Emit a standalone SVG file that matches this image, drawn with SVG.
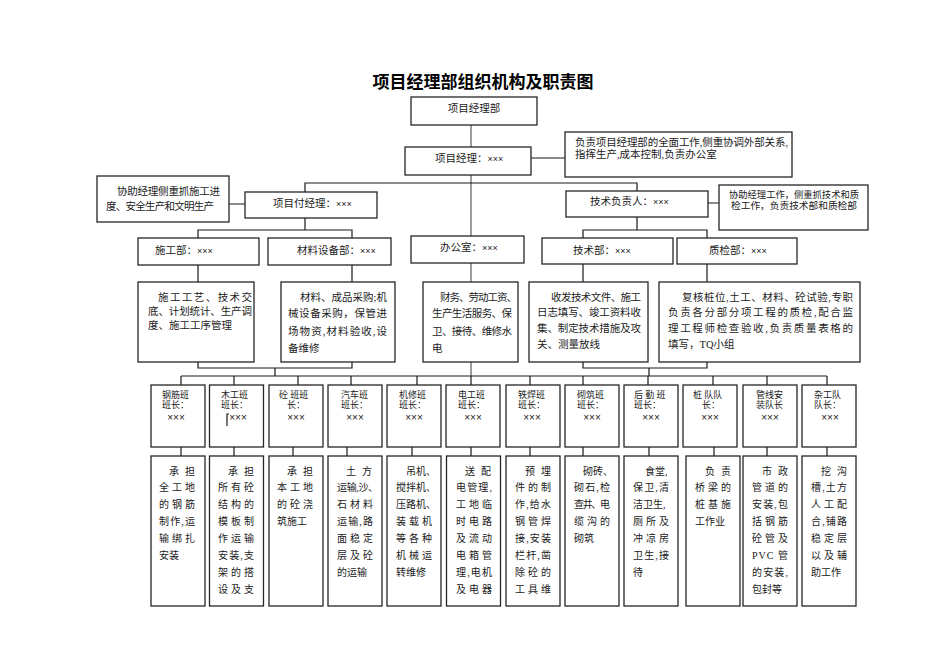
<svg xmlns="http://www.w3.org/2000/svg" width="950" height="672" viewBox="0 0 950 672">
<style>
text{font-family:"Liberation Serif","Noto Sans CJK SC",serif;fill:#1a1a1a;font-size:10.5px}
.title{font-family:"Noto Sans CJK SC",sans-serif;font-weight:bold;font-size:17px;fill:#000}
.b{fill:#fff;stroke:#262626;stroke-width:1.3}
.c{fill:none;stroke:#1a1a1a;stroke-width:1.2}
.g{fill:none;stroke:#858585;stroke-width:1.6}
.x{font-family:"Liberation Sans",sans-serif;font-size:9px}
.tx{font-family:"Liberation Sans",sans-serif;font-size:10px}
.s{font-size:9px}
.d{font-size:10px}
.r{font-size:9.6px}
</style>
<rect width="950" height="672" fill="#fff"/>
<text class="title" x="483" y="88" text-anchor="middle">项目经理部组织机构及职责图</text>

<g id="connectors">
<path class="g" d="M471,125V147M471,175V236M471,263V282M471,362V376"/>
<path class="c" d="M531,158H565M305,192V183H637V191M229,204H245M708,203H719"/>
<path class="c" d="M305,218V230M198,238V230H352V238M637,217V230M583,238V230H707V238"/>
<path class="c" d="M198,265V282M352,265V282M583,264V282M707,264V282"/>
<path class="c" d="M198,362V368H352V362M275,368V376M583,362V368H707V362M649,368V376"/>
<path class="c" d="M181,376H827"/>
<path class="c" d="M181,376V385M234,376V385M298,376V385M351,376V385M417,376V385M471,376V385M530,376V385M583,376V385M648,376V385M713,376V385M767,376V385M827,376V385"/>
<path class="c" d="M181,447V456M234,447V456M293,447V456M347,447V456M412,447V456M471,447V456M530,447V456M583,447V456M649,447V456M714,447V456M767,447V456M827,447V456"/>
</g>

<g id="pmdept"><rect class="b" x="411" y="97" width="126" height="28"/><text x="474" y="112" text-anchor="middle">项目经理部</text></g>
<g id="pm"><rect class="b" x="405" y="147" width="126" height="28"/><text x="435" y="162">项目经理：<tspan class="x">×××</tspan></text></g>
<g id="pmdesc"><rect class="b" x="565" y="132" width="227" height="45"/>
<text x="575" y="146" textLength="213" lengthAdjust="spacing">负责项目经理部的全面工作,侧重协调外部关系,</text>
<text x="575" y="158">指挥生产,成本控制,负责办公室</text></g>

<g id="deputy"><rect class="b" x="245" y="192" width="132" height="26"/><text x="273" y="207">项目付经理：<tspan class="x">×××</tspan></text></g>
<g id="deputydesc"><rect class="b" x="97" y="176" width="132" height="46"/>
<text x="117" y="195" textLength="103" lengthAdjust="spacing">协助经理侧重抓施工进</text>
<text x="106" y="210" textLength="108" lengthAdjust="spacing">度、安全生产和文明生产</text></g>

<g id="tech"><rect class="b" x="566" y="191" width="142" height="26"/><text x="590" y="205">技术负责人：<tspan class="x">×××</tspan></text></g>
<g id="techdesc"><rect class="b" x="719" y="185" width="149" height="45"/>
<text class="r" x="729" y="198" textLength="130" lengthAdjust="spacingAndGlyphs">协助经理工作，侧重抓技术和质</text>
<text class="r" x="731" y="209" textLength="126" lengthAdjust="spacingAndGlyphs">检工作，负责技术部和质检部</text></g>

<g id="sg"><rect class="b" x="138" y="238" width="121" height="27"/><text x="155" y="254">施工部：<tspan class="x">×××</tspan></text></g>
<g id="cl"><rect class="b" x="268" y="238" width="123" height="27"/><text x="297" y="254">材料设备部：<tspan class="x">×××</tspan></text></g>
<g id="office"><rect class="b" x="411" y="236" width="113" height="27"/><text x="440" y="251">办公室：<tspan class="x">×××</tspan></text></g>
<g id="js"><rect class="b" x="542" y="238" width="131" height="26"/><text x="573" y="254">技术部：<tspan class="x">×××</tspan></text></g>
<g id="zj"><rect class="b" x="677" y="238" width="120" height="26"/><text x="709" y="254">质检部：<tspan class="x">×××</tspan></text></g>

<g id="sgdesc"><rect class="b" x="138" y="282" width="116" height="80"/>
<text x="158" y="301" textLength="94" lengthAdjust="spacing">施工工艺、技术交</text>
<text x="148" y="315" textLength="104" lengthAdjust="spacing">底、计划统计、生产调</text>
<text x="148" y="329">度、施工工序管理</text></g>
<g id="cldesc"><rect class="b" x="281" y="282" width="114" height="80"/>
<text x="300" y="301" textLength="87" lengthAdjust="spacing">材料、成品采购;机</text>
<text x="288" y="317" textLength="99" lengthAdjust="spacing">械设备采购，保管进</text>
<text x="288" y="335" textLength="99" lengthAdjust="spacing">场物资,材料验收,设</text>
<text x="288" y="352">备维修</text></g>
<g id="officedesc"><rect class="b" x="423" y="282" width="95" height="80"/>
<text x="440" y="301" textLength="77" lengthAdjust="spacing">财务、劳动工资、</text>
<text x="432" y="317" textLength="80" lengthAdjust="spacing">生产生活服务、保</text>
<text x="432" y="335" textLength="80" lengthAdjust="spacing">卫、接待、维修水</text>
<text x="432" y="352">电</text></g>
<g id="jsdesc"><rect class="b" x="529" y="282" width="119" height="80"/>
<text x="551" y="301" textLength="90" lengthAdjust="spacing">收发技术文件、施工</text>
<text x="537" y="316" textLength="104" lengthAdjust="spacing">日志填写、竣工资料收</text>
<text x="537" y="332" textLength="104" lengthAdjust="spacing">集、制定技术措施及攻</text>
<text x="537" y="348">关、测量放线</text></g>
<g id="zjdesc"><rect class="b" x="659" y="282" width="201" height="80"/>
<text x="682" y="301" textLength="171" lengthAdjust="spacing">复核桩位,土工、材料、砼试验,专职</text>
<text x="668" y="316" textLength="185" lengthAdjust="spacing">负责各分部分项工程的质检,配合监</text>
<text x="668" y="332" textLength="185" lengthAdjust="spacing">理工程师检查验收,负责质量表格的</text>
<text x="668" y="348">填写，TQ小组</text></g>

<g id="t1"><rect class="b" x="151" y="385" width="54" height="62"/><text class="s" x="162" y="398">钢筋班</text><text class="s" x="162" y="408">班长：</text><text class="tx" x="176" y="421" text-anchor="middle">×××</text></g>
<g id="t2"><rect class="b" x="209.5" y="385" width="54" height="62"/><text class="s" x="221" y="398">木工班</text><text class="s" x="221" y="408">班长：</text><text class="tx" x="238" y="421" text-anchor="middle">×××</text><path class="c" d="M227,426V414H229" stroke-width="1"/></g>
<g id="t3"><rect class="b" x="269" y="385" width="54" height="62"/><text class="s" x="279" y="398">砼  班班</text><text class="s" x="287" y="408">长：</text><text class="tx" x="296" y="421" text-anchor="middle">×××</text></g>
<g id="t4"><rect class="b" x="328" y="385" width="54" height="62"/><text class="s" x="341" y="398">汽车班</text><text class="s" x="341" y="408">班长：</text><text class="tx" x="355" y="421" text-anchor="middle">×××</text></g>
<g id="t5"><rect class="b" x="387" y="385" width="54" height="62"/><text class="s" x="399" y="398">机修班</text><text class="s" x="399" y="408">班长：</text><text class="tx" x="414" y="421" text-anchor="middle">×××</text></g>
<g id="t6"><rect class="b" x="446" y="385" width="54" height="62"/><text class="s" x="458" y="398">电工班</text><text class="s" x="458" y="408">班长：</text><text class="tx" x="473" y="421" text-anchor="middle">×××</text></g>
<g id="t7"><rect class="b" x="506" y="385" width="54" height="62"/><text class="s" x="518" y="398">铁焊班</text><text class="s" x="518" y="408">班长：</text><text class="tx" x="532" y="421" text-anchor="middle">×××</text></g>
<g id="t8"><rect class="b" x="565" y="385" width="54" height="62"/><text class="s" x="577" y="398">砌筑班</text><text class="s" x="577" y="408">班长：</text><text class="tx" x="592" y="421" text-anchor="middle">×××</text></g>
<g id="t9"><rect class="b" x="624" y="385" width="54" height="62"/><text class="s" x="634" y="398">后 勤 班</text><text class="s" x="634" y="408">班长：</text><text class="tx" x="651" y="421" text-anchor="middle">×××</text></g>
<g id="t10"><rect class="b" x="683" y="385" width="54" height="62"/><text class="s" x="693" y="398">桩  队队</text><text class="s" x="702" y="408">长：</text><text class="tx" x="710" y="421" text-anchor="middle">×××</text></g>
<g id="t11"><rect class="b" x="743" y="385" width="54" height="62"/><text class="s" x="756" y="398">管线安</text><text class="s" x="756" y="408">装队长</text><text class="tx" x="770" y="421" text-anchor="middle">×××</text></g>
<g id="t12"><rect class="b" x="802" y="385" width="54" height="62"/><text class="s" x="814" y="398">杂工队</text><text class="s" x="814" y="408">队长：</text><text class="tx" x="830" y="421" text-anchor="middle">×××</text></g>

<g id="d1"><rect class="b" x="151" y="456" width="54" height="150"/>
<text class="d" x="169" y="475" textLength="26" lengthAdjust="spacing">承担</text>
<text class="d" x="159" y="491" textLength="36" lengthAdjust="spacing">全工地</text>
<text class="d" x="159" y="508" textLength="36" lengthAdjust="spacing">的钢筋</text>
<text class="d" x="159" y="525" textLength="36" lengthAdjust="spacing">制作,运</text>
<text class="d" x="159" y="542" textLength="36" lengthAdjust="spacing">输绑扎</text>
<text class="d" x="159" y="559">安装</text></g>
<g id="d2"><rect class="b" x="209.5" y="456" width="54" height="150"/>
<text class="d" x="228" y="475" textLength="26" lengthAdjust="spacing">承担</text>
<text class="d" x="218" y="491" textLength="36" lengthAdjust="spacing">所有砼</text>
<text class="d" x="218" y="508" textLength="36" lengthAdjust="spacing">结构的</text>
<text class="d" x="218" y="525" textLength="36" lengthAdjust="spacing">模板制</text>
<text class="d" x="218" y="542" textLength="36" lengthAdjust="spacing">作运输</text>
<text class="d" x="218" y="559" textLength="36" lengthAdjust="spacing">安装,支</text>
<text class="d" x="218" y="576" textLength="36" lengthAdjust="spacing">架的搭</text>
<text class="d" x="218" y="593" textLength="36" lengthAdjust="spacing">设及支</text></g>
<g id="d3"><rect class="b" x="269" y="456" width="54" height="150"/>
<text class="d" x="287" y="475" textLength="26" lengthAdjust="spacing">承担</text>
<text class="d" x="277" y="491" textLength="36" lengthAdjust="spacing">本工地</text>
<text class="d" x="277" y="508" textLength="36" lengthAdjust="spacing">的砼浇</text>
<text class="d" x="277" y="525">筑施工</text></g>
<g id="d4"><rect class="b" x="328" y="456" width="54" height="150"/>
<text class="d" x="346" y="475" textLength="26" lengthAdjust="spacing">土方</text>
<text class="d" x="337" y="491" textLength="41" lengthAdjust="spacing">运输,沙、</text>
<text class="d" x="337" y="508" textLength="36" lengthAdjust="spacing">石材料</text>
<text class="d" x="337" y="525" textLength="36" lengthAdjust="spacing">运输,路</text>
<text class="d" x="337" y="542" textLength="36" lengthAdjust="spacing">面稳定</text>
<text class="d" x="337" y="559" textLength="36" lengthAdjust="spacing">层及砼</text>
<text class="d" x="337" y="576">的运输</text></g>
<g id="d5"><rect class="b" x="387" y="456" width="54" height="150"/>
<text class="d" x="406" y="475">吊机、</text>
<text class="d" x="396" y="491">搅拌机、</text>
<text class="d" x="396" y="508">压路机、</text>
<text class="d" x="396" y="525" textLength="36" lengthAdjust="spacing">装载机</text>
<text class="d" x="396" y="542" textLength="36" lengthAdjust="spacing">等各种</text>
<text class="d" x="396" y="559" textLength="36" lengthAdjust="spacing">机械运</text>
<text class="d" x="396" y="576">转维修</text></g>
<g id="d6"><rect class="b" x="446.5" y="456" width="54" height="150"/>
<text class="d" x="465" y="475" textLength="26" lengthAdjust="spacing">送配</text>
<text class="d" x="456" y="491" textLength="36" lengthAdjust="spacing">电管理,</text>
<text class="d" x="456" y="508" textLength="36" lengthAdjust="spacing">工地临</text>
<text class="d" x="456" y="525" textLength="36" lengthAdjust="spacing">时电路</text>
<text class="d" x="456" y="542" textLength="36" lengthAdjust="spacing">及流动</text>
<text class="d" x="456" y="559" textLength="36" lengthAdjust="spacing">电箱管</text>
<text class="d" x="456" y="576" textLength="36" lengthAdjust="spacing">理,电机</text>
<text class="d" x="456" y="593" textLength="36" lengthAdjust="spacing">及电器</text></g>
<g id="d7"><rect class="b" x="506" y="456" width="54" height="150"/>
<text class="d" x="525" y="475" textLength="26" lengthAdjust="spacing">预埋</text>
<text class="d" x="515" y="491" textLength="36" lengthAdjust="spacing">件的制</text>
<text class="d" x="515" y="508" textLength="36" lengthAdjust="spacing">作,给水</text>
<text class="d" x="515" y="525" textLength="36" lengthAdjust="spacing">钢管焊</text>
<text class="d" x="515" y="542" textLength="36" lengthAdjust="spacing">接,安装</text>
<text class="d" x="515" y="559" textLength="36" lengthAdjust="spacing">栏杆,凿</text>
<text class="d" x="515" y="576" textLength="36" lengthAdjust="spacing">除砼的</text>
<text class="d" x="515" y="593" textLength="36" lengthAdjust="spacing">工具维</text></g>
<g id="d8"><rect class="b" x="565" y="456" width="54" height="150"/>
<text class="d" x="583" y="475">砌砖、</text>
<text class="d" x="574" y="491" textLength="36" lengthAdjust="spacing">砌石,检</text>
<text class="d" x="574" y="508" textLength="36" lengthAdjust="spacing">查井、电</text>
<text class="d" x="574" y="525" textLength="36" lengthAdjust="spacing">缆沟的</text>
<text class="d" x="574" y="542">砌筑</text></g>
<g id="d9"><rect class="b" x="624" y="456" width="54" height="150"/>
<text class="d" x="645" y="475">食堂,</text>
<text class="d" x="633" y="491" textLength="36" lengthAdjust="spacing">保卫,清</text>
<text class="d" x="633" y="508">洁卫生,</text>
<text class="d" x="633" y="525" textLength="36" lengthAdjust="spacing">厕所及</text>
<text class="d" x="633" y="542" textLength="36" lengthAdjust="spacing">冲凉房</text>
<text class="d" x="633" y="559" textLength="36" lengthAdjust="spacing">卫生,接</text>
<text class="d" x="633" y="576">待</text></g>
<g id="d10"><rect class="b" x="686" y="456" width="54" height="150"/>
<text class="d" x="705" y="475" textLength="26" lengthAdjust="spacing">负责</text>
<text class="d" x="695" y="491" textLength="36" lengthAdjust="spacing">桥梁的</text>
<text class="d" x="695" y="508" textLength="36" lengthAdjust="spacing">桩基施</text>
<text class="d" x="695" y="525">工作业</text></g>
<g id="d11"><rect class="b" x="743" y="456" width="54" height="150"/>
<text class="d" x="762" y="475" textLength="26" lengthAdjust="spacing">市政</text>
<text class="d" x="752" y="491" textLength="36" lengthAdjust="spacing">管道的</text>
<text class="d" x="752" y="508" textLength="36" lengthAdjust="spacing">安装,包</text>
<text class="d" x="752" y="525" textLength="36" lengthAdjust="spacing">括钢筋</text>
<text class="d" x="752" y="542" textLength="36" lengthAdjust="spacing">砼管及</text>
<text class="d" x="752" y="559" textLength="36" lengthAdjust="spacing">PVC 管</text>
<text class="d" x="752" y="576" textLength="36" lengthAdjust="spacing">的安装,</text>
<text class="d" x="752" y="593">包封等</text></g>
<g id="d12"><rect class="b" x="802" y="456" width="54" height="150"/>
<text class="d" x="821" y="475" textLength="26" lengthAdjust="spacing">挖沟</text>
<text class="d" x="811" y="491" textLength="36" lengthAdjust="spacing">槽,土方</text>
<text class="d" x="811" y="508" textLength="36" lengthAdjust="spacing">人工配</text>
<text class="d" x="811" y="525" textLength="36" lengthAdjust="spacing">合,铺路</text>
<text class="d" x="811" y="542" textLength="36" lengthAdjust="spacing">稳定层</text>
<text class="d" x="811" y="559" textLength="36" lengthAdjust="spacing">以及辅</text>
<text class="d" x="811" y="576">助工作</text></g>
</svg>
